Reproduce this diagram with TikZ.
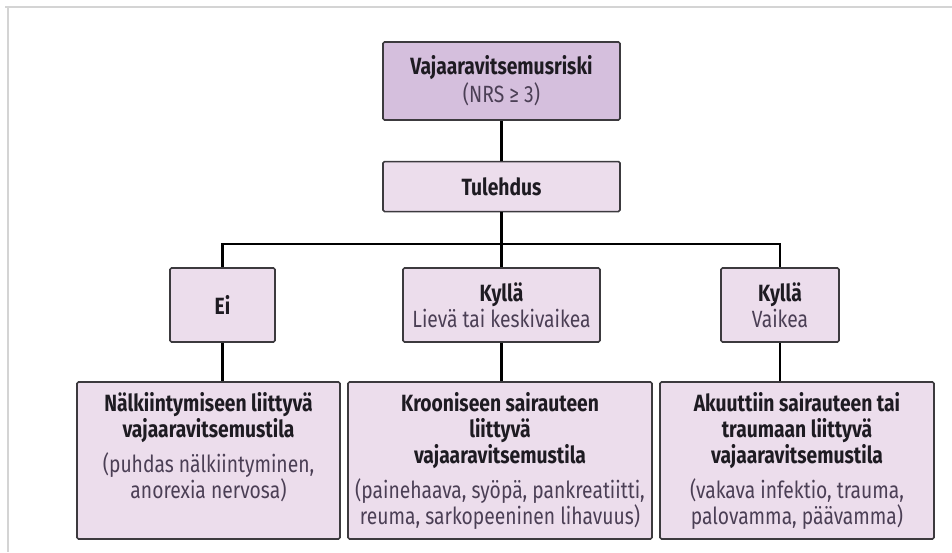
\documentclass[tikz,border=0pt]{standalone}
\usepackage{fontspec}
\setmainfont{Fira Sans}[FakeStretch=0.82]
\usepackage{xcolor}
\usepackage{tikz}
\usetikzlibrary{positioning}

\definecolor{riskfill}{HTML}{D5BFDD}
\definecolor{boxfill}{HTML}{ECDDEC}
\definecolor{boxline}{HTML}{3C3A3E}
\definecolor{subtext}{HTML}{4B3F55}
\definecolor{headtext}{HTML}{1E1B22}
\definecolor{framegray}{HTML}{D4D4D4}

\newcommand{\boxhead}[1]{{\color{headtext}\bfseries #1}}

\begin{document}
\begin{tikzpicture}[
  x=1pt, y=1pt,
  box/.style={
    draw=boxline,
    line width=1.6pt,
    fill=boxfill,
    rounded corners=1.5pt,
    align=center,
    inner sep=0pt,
    text=subtext,
    font=\fontsize{23.5}{26}\selectfont
  },
  link/.style={line width=2.6pt, black}
]
  \useasboundingbox (0,0) rectangle (952,552);
  \draw[framegray, line width=1.5pt] (5,545) -- (952,545);
  \draw[framegray, line width=1.5pt] (8,545) -- (8,0);

  \node[
    box,
    fill=riskfill,
    minimum width=237pt,
    minimum height=78pt
  ] (risk) at (501.5,471) {\boxhead{Vajaaravitsemusriski}\\[2pt](NRS ≥ 3)};
  \node[
    box,
    minimum width=237pt,
    minimum height=50pt,
    below=40pt of risk
  ] (infl) {\boxhead{Tulehdus}};

  \node[box, minimum width=105pt, minimum height=74pt] (no) at (222.5,247)
    {\boxhead{Ei}};
  \node[box, minimum width=197pt, minimum height=74pt] (mild) at (501.5,247)
    {\boxhead{Kyllä}\\Lievä tai keskivaikea};
  \node[box, minimum width=118pt, minimum height=74pt] (severe) at (780,247)
    {\boxhead{Kyllä}\\Vaikea};

  \node[box, minimum width=263pt, minimum height=157pt] (starv) at (208.5,91.5)
    {\boxhead{Nälkiintymiseen liittyvä}\\\boxhead{vajaaravitsemustila}\\[9pt]
     (puhdas nälkiintyminen,\\anorexia nervosa)\\[4pt]\mbox{}};
  \node[box, minimum width=304pt, minimum height=157pt] (chronic) at (500,91.5)
    {\boxhead{Krooniseen sairauteen}\\\boxhead{liittyvä}\\\boxhead{vajaaravitsemustila}\\[9pt]
     (painehaava, syöpä, pankreatiitti,\\reuma, sarkopeeninen lihavuus)};
  \node[box, minimum width=274pt, minimum height=157pt] (acute) at (797,91.5)
    {\boxhead{Akuuttiin sairauteen tai}\\\boxhead{traumaan liittyvä}\\\boxhead{vajaaravitsemustila}\\[9pt]
     (vakava infektio, trauma,\\palovamma, päävamma)};

  \coordinate (bus) at (501.5,308);
  \draw[link] (risk) -- (infl);
  \draw[link] (infl) -- (bus);
  \draw[link] (no.north) |- (bus) -| (severe.north);
  \draw[link] (mild) -- (bus);
  \draw[link] (no) -- (no |- starv.north);
  \draw[link] (mild) -- (mild |- chronic.north);
  \draw[link] (severe) -- (severe |- acute.north);
\end{tikzpicture}
\end{document}
